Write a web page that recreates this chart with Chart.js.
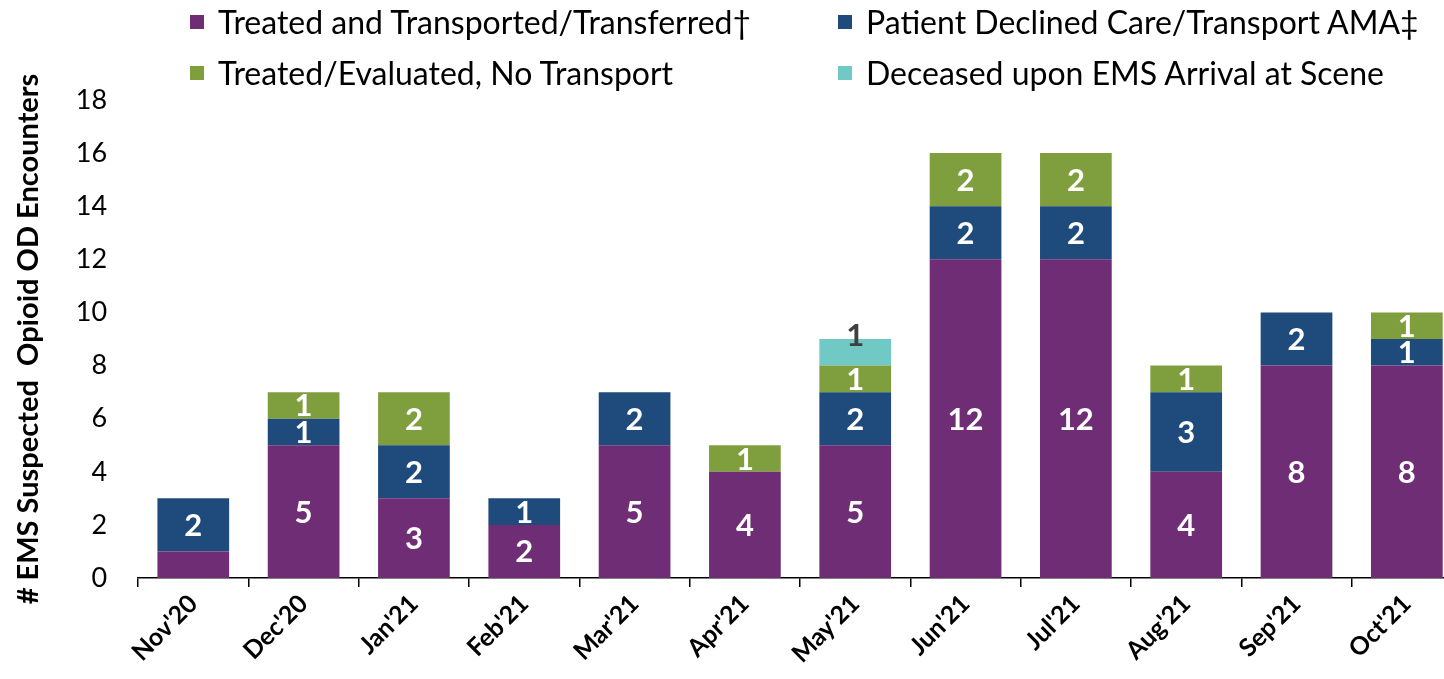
<!DOCTYPE html>
<html>
<head>
<meta charset="utf-8">
<script src="https://cdn.jsdelivr.net/npm/chart.js@4.4.1/dist/chart.umd.min.js"></script>
<style>
  html, body { margin: 0; padding: 0; background: #fff; overflow: hidden; }
  #wrap { position: relative; width: 1462px; height: 679px; }
  #legend { position: absolute; left: 0; top: 0; width: 1444px; font-family: Lato, sans-serif; font-size: 32px; color: #000; }
  .item { position: absolute; white-space: nowrap; line-height: 1; }
  .item .box { position: absolute; left: -28px; top: 9px; width: 14px; height: 14px; }
</style>
</head>
<body>
<div id="wrap">
  <canvas id="ems-chart" width="1462" height="679"></canvas>
  <div id="legend"></div>
</div>
<script>
// EMS suspected opioid OD encounters by month, stacked by outcome
const months = ["Nov'20", "Dec'20", "Jan'21", "Feb'21", "Mar'21", "Apr'21", "May'21", "Jun'21", "Jul'21", "Aug'21", "Sep'21", "Oct'21"];

const treatedTransported = [1, 5, 3, 2, 5, 4, 5, 12, 12, 4, 8, 8];
const declinedAMA        = [2, 1, 2, 1, 2, 0, 2, 2, 2, 3, 2, 1];
const treatedNoTransport = [0, 1, 2, 0, 0, 1, 1, 2, 2, 1, 0, 1];
const deceasedAtScene    = [0, 0, 0, 0, 0, 0, 1, 0, 0, 0, 0, 0];

const seriesNames = [
    'Treated and Transported/Transferred\u2020',
    'Patient Declined Care/Transport AMA\u2021',
    'Treated/Evaluated, No Transport',
    'Deceased upon EMS Arrival at Scene'
];
const seriesColors = ['#6E2D74', '#1F4A7C', '#7F9F3F', '#70C9C5'];

const yTicks = [0, 2, 4, 6, 8, 10, 12, 14, 16, 18];

// Legend in two columns like the original
const legendSpots = [
    { left: 218, top: 6 },
    { left: 866, top: 6 },
    { left: 218, top: 57 },
    { left: 866, top: 57 }
];
const legendEl = document.getElementById('legend');
seriesNames.forEach((name, i) => {
    const div = document.createElement('div');
    div.className = 'item';
    div.style.left = legendSpots[i].left + 'px';
    div.style.top = legendSpots[i].top + 'px';
    div.innerHTML = '<span class="box" style="background:' + seriesColors[i] + '"></span>' + name;
    legendEl.appendChild(div);
});

// Numbers drawn inside each stacked segment
const segmentLabels = {
    id: 'segmentLabels',
    afterDatasetsDraw(chart) {
        const ctx = chart.ctx;
        ctx.save();
        ctx.font = 'bold 31px Lato';
        ctx.textAlign = 'center';
        ctx.textBaseline = 'middle';
        chart.data.datasets.forEach((ds, di) => {
            const meta = chart.getDatasetMeta(di);
            meta.data.forEach((bar, i) => {
                const v = ds.data[i];
                if (!v) return;
                // the Nov'20 label sits under the axis in the original, so it is not shown
                if (di === 0 && i === 0) return;
                const p = bar.getProps(['x', 'y', 'base'], true);
                if (di === 3) {
                    ctx.fillStyle = '#404040';
                    ctx.fillText(String(v), p.x, p.y - 3);
                } else {
                    ctx.fillStyle = '#ffffff';
                    ctx.fillText(String(v), p.x, (p.y + p.base) / 2 + 1);
                }
            });
        });
        ctx.restore();
    }
};

const datasets = [treatedTransported, declinedAMA, treatedNoTransport, deceasedAtScene].map((data, i) => ({
    label: seriesNames[i],
    data: data,
    backgroundColor: seriesColors[i],
    borderWidth: 0,
    barPercentage: 0.65,
    categoryPercentage: 1.0
}));

const chart = new Chart(document.getElementById('ems-chart').getContext('2d'), {
    type: 'bar',
    data: { labels: months, datasets: datasets },
    options: {
        responsive: false,
        animation: false,
        layout: { padding: { top: 100, left: 11, right: 0, bottom: 8 } },
        plugins: {
            legend: { display: false },
            tooltip: { enabled: false }
        },
        scales: {
            x: {
                stacked: true,
                grid: { display: true, drawOnChartArea: false, drawTicks: true, tickLength: 9, color: '#000', lineWidth: 1.5, offset: true },
                border: { display: true, color: '#000', width: 1.5 },
                ticks: {
                    color: '#000',
                    font: { family: 'Lato', size: 25, weight: 'bold' },
                    minRotation: 45,
                    maxRotation: 45,
                    padding: 2
                }
            },
            y: {
                stacked: true,
                min: 0,
                max: 18,
                afterBuildTicks: axis => { axis.ticks = yTicks.map(v => ({ value: v })); },
                grid: { display: false },
                border: { display: false },
                ticks: {
                    color: '#000',
                    font: { family: 'Lato', size: 27 },
                    padding: 23
                },
                title: {
                    display: true,
                    text: '# EMS Suspected  Opioid OD Encounters',
                    color: '#000',
                    font: { family: 'Lato', size: 29, weight: 'bold' },
                    padding: { top: 0, bottom: 7 }
                }
            }
        }
    },
    plugins: [segmentLabels]
});
</script>
</body>
</html>
